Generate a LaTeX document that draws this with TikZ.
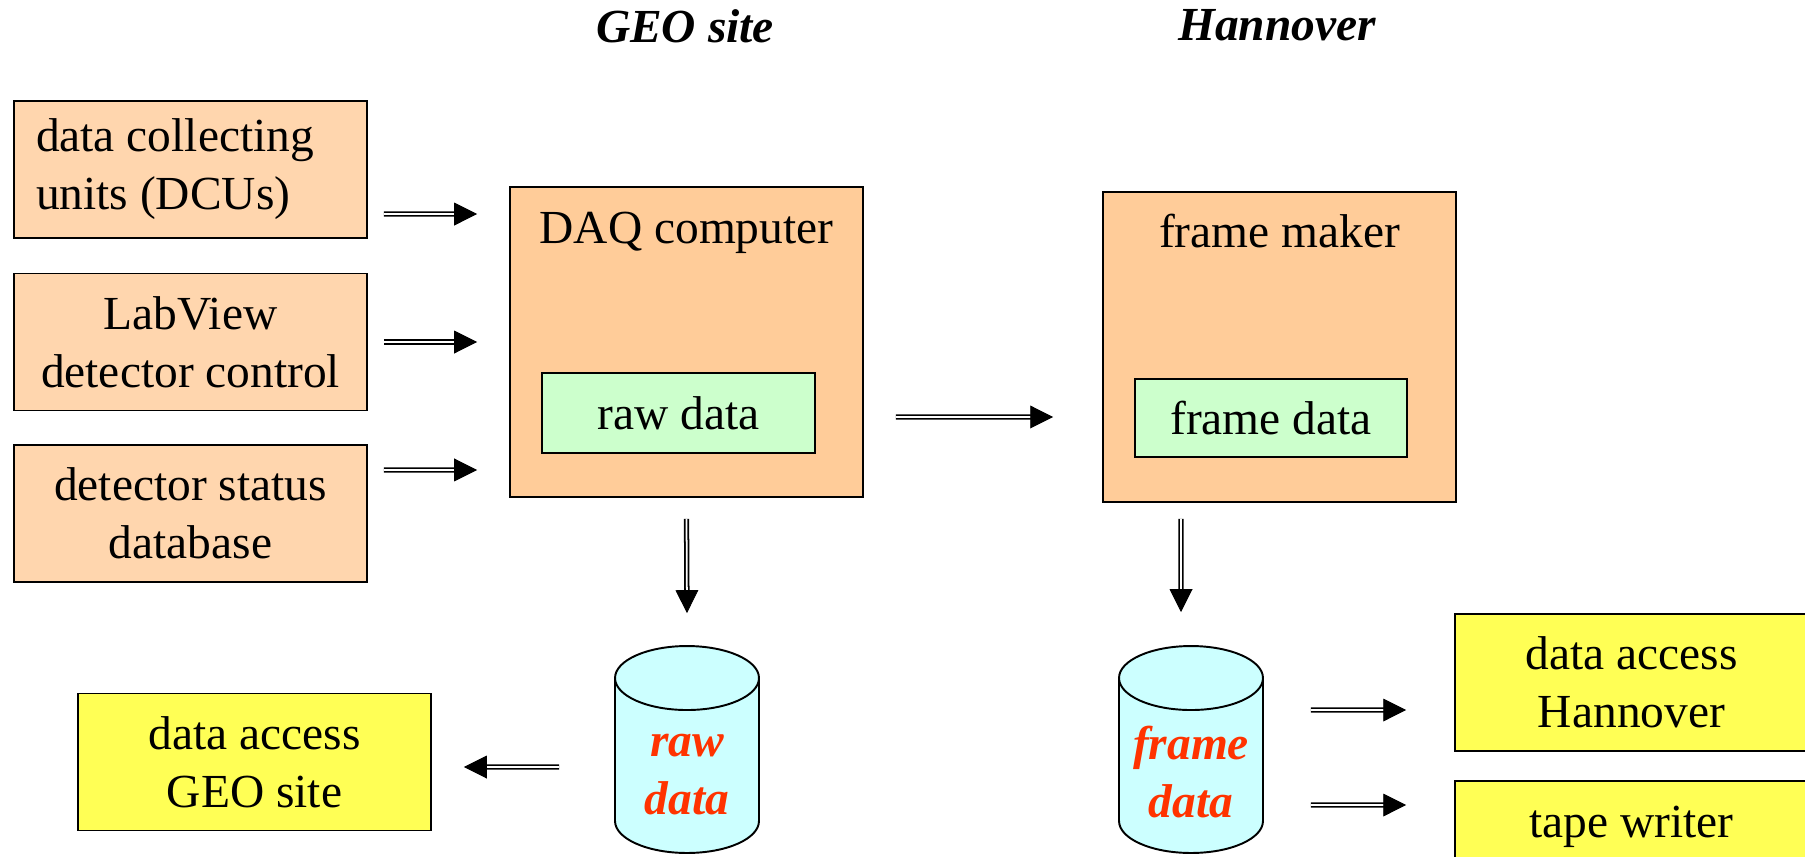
\documentclass[tikz,border=0pt]{standalone}
\usepackage{fontspec}
\setmainfont{Liberation Serif}
\usetikzlibrary{arrows.meta, decorations.markings}

\definecolor{peach}{HTML}{FFCC99}
\definecolor{peachtex}{HTML}{FFD6AE}
\definecolor{lemon}{HTML}{FFFF55}
\definecolor{mint}{HTML}{CCFFCC}
\definecolor{aqua}{HTML}{CCFFFF}
\definecolor{disktext}{HTML}{FF3300}

\newcommand{\bigfont}{\fontsize{27}{33}\selectfont}
% cylinder drawn round a named (empty) node
\newcommand{\drawdisk}[1]{%
  \filldraw [diskedge] ([yshift=-0.64cm]#1.north west) -- ([yshift=0.64cm]#1.south west)
    arc[start angle=180, end angle=360, x radius=1.44cm, y radius=0.64cm]
    -- ([yshift=-0.64cm]#1.north east)
    arc[start angle=0, end angle=180, x radius=1.44cm, y radius=0.64cm] -- cycle;
  \draw [diskedge] ([yshift=-0.64cm]#1.north west)
    arc[start angle=180, end angle=360, x radius=1.44cm, y radius=0.64cm];}

\tikzstyle{source} = [rectangle, minimum width=7.06cm, minimum height=2.74cm, draw=black,
line width=1.1pt, fill=peachtex, align=center, font=\bigfont]
\tikzstyle{unit} = [rectangle, minimum width=7.06cm, minimum height=6.2cm, draw=black,
line width=1.1pt, fill=peach]
\tikzstyle{unitname} = [anchor=base, font=\bigfont]
\tikzstyle{store} = [rectangle, minimum width=5.46cm, minimum height=1.6cm, draw=black,
line width=1.1pt, fill=mint, font=\bigfont]
\tikzstyle{access} = [rectangle, minimum width=7.06cm, minimum height=2.74cm, draw=black,
line width=1.1pt, fill=lemon, align=center, font=\bigfont]
\tikzstyle{disk} = [rectangle, minimum width=2.88cm, minimum height=4.14cm, inner sep=0pt, outer sep=0pt]
\tikzstyle{diskedge} = [draw=black, line width=1.1pt, fill=aqua]
\tikzstyle{disklabel} = [align=center, text=disktext, font=\bigfont\bfseries\itshape]
\tikzstyle{site} = [anchor=base, font=\bigfont\bfseries\itshape]
\tikzstyle{dblarrow} = [postaction={draw, double, line width=1pt, double distance=1pt, shorten >=12pt},
postaction={decorate, decoration={markings, mark=at position 1 with {\arrow{Triangle[length=13pt, width=13pt]}}}}]

\begin{document}
\begin{tikzpicture}[x=0.02cm, y=-0.02cm]
        \useasboundingbox (0,0) rectangle (1805,856);
        \node (geo) [site] at (685,42) {GEO site};
        \node (han) [site] at (1277,40) {Hannover};

        \node (dcu) [source, align=flush left, text width=6.18cm] at (190.5,169.5) {data collecting\\units (DCUs)};
        \node (lab) [source] at (190.5,342) {LabView\\detector control};
        \node (dss) [source] at (190.5,513.5) {detector status\\database};

        \node (daq) [unit] at (686.5,342) {};
        \node (daqname) [unitname] at ([yshift=-1.14cm]daq.north) {DAQ computer};
        \node (raw) [store] at (678.5,413) {raw data};

        \node (fm) [unit] at (1279.5,347) {};
        \node (fmname) [unitname] at ([yshift=-1.12cm]fm.north) {frame maker};
        \node (frame) [store, minimum width=5.44cm, minimum height=1.56cm] at (1271,418) {frame data};

        \node (rawdisk) [disk] at (687,749.5) {};
        \drawdisk{rawdisk}
        \node (rawname) [disklabel] at ([yshift=-0.51cm]rawdisk.center) {raw\\data};
        \node (framedisk) [disk] at (1191,749.5) {};
        \drawdisk{framedisk}
        \node (framename) [disklabel] at ([yshift=-0.45cm]framedisk.center) {frame\\data};

        \node (geoacc) [access] at (254.5,762) {data access\\GEO site};
        \node (hanacc) [access] at (1631.5,682.5) {data access\\Hannover};
        \node (tape) [access, text height=1.12cm, text depth=1.62cm, inner ysep=0pt] at (1631.5,849.5) {tape writer};

        \path [dblarrow] ([xshift=0.32cm, yshift=-0.89cm]dcu.east) -- ([xshift=-0.64cm, yshift=2.56cm]daq.west);
        \path [dblarrow] ([xshift=0.32cm]lab.east) -- ([xshift=-0.64cm]daq.west);
        \path [dblarrow] ([xshift=0.32cm, yshift=0.87cm]dss.east) -- ([xshift=-0.64cm, yshift=-2.56cm]daq.west);
        \path [dblarrow] ([xshift=0.64cm, yshift=-1.5cm]daq.east) -- ([xshift=-0.98cm, yshift=-1.4cm]fm.west);
        \path [dblarrow] ([yshift=-0.42cm]daq.south) -- ([yshift=0.66cm]rawdisk.north);
        \path [dblarrow] ([xshift=-1.97cm, yshift=-0.32cm]fm.south) -- ([xshift=-0.2cm, yshift=0.68cm]framedisk.north);
        \path [dblarrow] ([xshift=-1.12cm, yshift=-0.35cm]rawdisk.west) -- ([xshift=0.64cm, yshift=-0.1cm]geoacc.east);
        \path [dblarrow] ([xshift=0.96cm, yshift=0.79cm]framedisk.east) -- ([xshift=-0.96cm, yshift=-0.55cm]hanacc.west);
        \path [dblarrow] ([xshift=0.96cm, yshift=-1.11cm]framedisk.east) -- ([xshift=-0.96cm, yshift=0.89cm]tape.west);

\end{tikzpicture}
\end{document}
